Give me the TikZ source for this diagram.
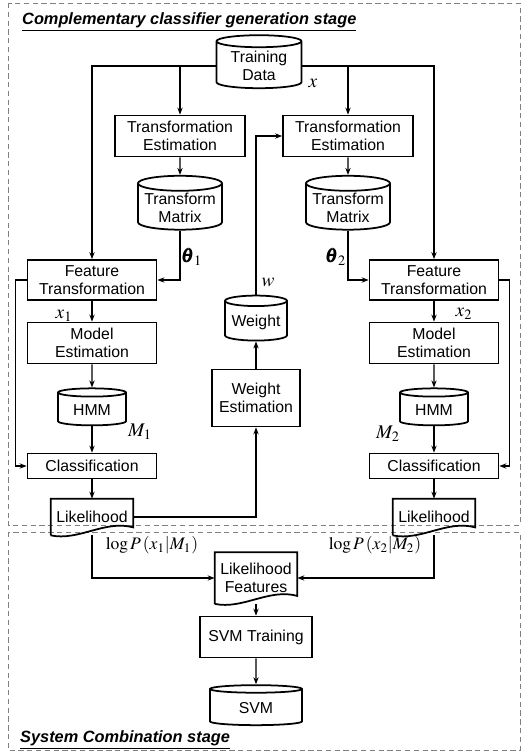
\documentclass[tikz,border=0pt]{standalone}
\usepackage{mathptmx}
\usepackage{amsmath}
\usepackage[no-math]{fontspec}
\setmainfont{Liberation Sans}
\usetikzlibrary{shapes.geometric,arrows.meta}

\begin{document}
\begin{tikzpicture}[x=0.02cm, y=-0.02cm, font=\fontsize{9}{10}\selectfont,
  box/.style={draw, line width=1pt, align=center, inner sep=1pt},
  db/.style={draw, line width=1pt, cylinder, shape border rotate=90, aspect=0.2, align=center, inner sep=1pt},
  doc/.style={align=center, inner sep=1pt},
  arr/.style={-{Stealth[length=4pt,width=3pt]}, line width=0.7pt},
  lbl/.style={font=\fontsize{11}{12}\selectfont},
  frame/.style={densely dashed, gray, line width=0.4pt},
  stage/.style={anchor=west, font=\bfseries\itshape\fontsize{9.3}{10}\selectfont}]

\useasboundingbox (0,0) rectangle (525,751);

% draw the two stage frames
\draw[frame] (8,3) rectangle (520,525);
\draw[frame] (8,532) rectangle (520,750);
\node[stage] (genstage) at (16,22) {\underline{Complementary classifier generation stage}};
\node[stage] (combstage) at (14,740) {\underline{System Combination stage}};

% draw nodes of the generation stage
\node[db, minimum width=1.7cm, minimum height=1.06cm] (data) at (259,66) {Training\\Data};
\node[box, minimum width=2.6cm, minimum height=0.82cm] (te1) at (180,136) {Transformation\\Estimation};
\node[box, minimum width=2.6cm, minimum height=0.82cm] (te2) at (348,136) {Transformation\\Estimation};
\node[db, minimum width=1.68cm, minimum height=1cm] (tm1) at (180,208) {Transform\\Matrix};
\node[db, minimum width=1.68cm, minimum height=1cm] (tm2) at (348,208) {Transform\\Matrix};
\node[box, minimum width=2.58cm, minimum height=0.8cm] (ft1) at (92,280) {Feature\\Transformation};
\node[box, minimum width=2.58cm, minimum height=0.8cm] (ft2) at (434,280) {Feature\\Transformation};
\node[box, minimum width=2.58cm, minimum height=0.82cm] (me1) at (92,343) {Model\\Estimation};
\node[box, minimum width=2.58cm, minimum height=0.82cm] (me2) at (434,343) {Model\\Estimation};
\node[db, minimum width=1.36cm, minimum height=0.74cm] (hmm1) at (92,410) {HMM};
\node[db, minimum width=1.36cm, minimum height=0.74cm] (hmm2) at (434,410) {HMM};
\node[box, minimum width=2.58cm, minimum height=0.5cm] (cl1) at (92,466) {Classification};
\node[box, minimum width=2.58cm, minimum height=0.5cm] (cl2) at (434,466) {Classification};
\node[doc, minimum width=1.64cm, minimum height=0.72cm] (lk1) at (92,517) {Likelihood};
\node[doc, minimum width=1.64cm, minimum height=0.72cm] (lk2) at (434,517) {Likelihood};
\node[db, minimum width=1.24cm, minimum height=0.9cm] (w) at (256,322) {Weight};
\node[box, minimum width=1.76cm, minimum height=1.14cm] (we) at (256,398) {Weight\\Estimation};

% draw nodes of the combination stage
\node[doc, minimum width=1.64cm, minimum height=1.02cm] (lf) at (256,578) {Likelihood\\Features};
\node[box, minimum width=2.24cm, minimum height=0.82cm] (svmt) at (256,637) {SVM Training};
\node[db, minimum width=1.84cm, minimum height=0.8cm] (svm) at (256,708) {SVM};

% draw the document outlines
\foreach \n in {lk1,lk2,lf}
\draw[line width=1pt] (\n.south west) -- (\n.north west) -- (\n.north east)
  -- ([yshift=4.5pt]\n.south east) .. controls +(-28,-8) and +(28,6) .. (\n.south west);

% draw connectors
\draw[arr] (data.west) -| (ft1.north);
\draw[arr] (data.east) -| (ft2.north);
\draw[arr] (data.west -| te1.north) -- (te1.north);
\draw[arr] (data.east -| te2.north) -- (te2.north);
\draw[arr] (te1.south) -- (tm1.north);
\draw[arr] (te2.south) -- (tm2.north);
\draw[arr] (tm1.south) |- (ft1.east);
\draw[arr] (tm2.south) |- (ft2.west);
\foreach \s in {1,2} {
\draw[arr] (ft\s.south) -- (me\s.north);
\draw[arr] (me\s.south) -- (hmm\s.north);
\draw[arr] (hmm\s.south) -- (cl\s.north);
\draw[arr] (cl\s.south) -- (lk\s.north);
}
\draw[arr] (ft1.west) -- ++(-11,0) |- (cl1.west);
\draw[arr] (ft2.east) -- ++(10,0) |- (cl2.east);
\draw[arr] (lk1.east) -| (we.south);
\draw[arr] (we.north) -- (w.south);
\draw[arr] (w.north) |- (te2.west);
\draw[arr] (lk1.south) |- (lf.west);
\draw[arr] (lk2.south) |- (lf.east);
\draw[arr] (lf.south) -- (svmt.north);
\draw[arr] (svmt.south) -- (svm.north);

% draw the math labels
\node[lbl] (xlbl) at (313,83) {$x$};
\node[lbl] (th1) at (192,257) {$\pmb{\theta}_1$};
\node[lbl] (th2) at (336,257) {$\pmb{\theta}_2$};
\node[lbl] (wlbl) at (268,282) {$w$};
\node[lbl] (x1lbl) at (64,316) {$x_1$};
\node[lbl] (x2lbl) at (464,314) {$x_2$};
\node[lbl] (m1lbl) at (140,432) {$M_1$};
\node[lbl] (m2lbl) at (388,434) {$M_2$};
\node[lbl, font=\fontsize{10}{12}\selectfont] (p1lbl) at (152,545) {$\log P\left(x_1\middle|M_1\right)$};
\node[lbl, font=\fontsize{10}{12}\selectfont] (p2lbl) at (375,545) {$\log P\left(x_2\middle|M_2\right)$};
\end{tikzpicture}
\end{document}
